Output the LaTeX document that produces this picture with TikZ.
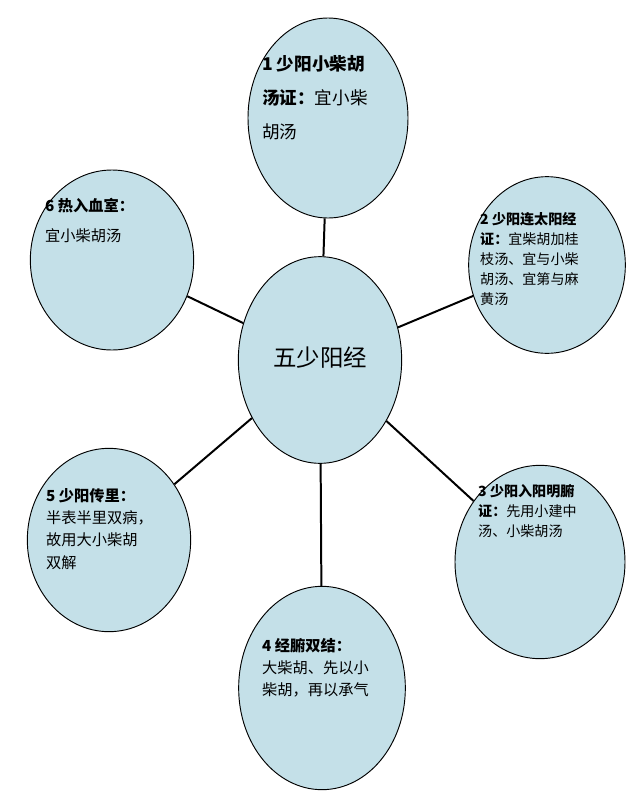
\documentclass[tikz,border=0pt]{standalone}
\usepackage{fontspec}
\setmainfont{Noto Sans CJK SC}
\usetikzlibrary{shapes.geometric}
\tikzset{
  blob/.style={ellipse,draw=black,thick,inner sep=0pt},
  spoke/.style={line width=1.7pt},
  txt/.style={align=left,anchor=north west,inner sep=0pt,font=\fontsize{13}{19}\selectfont}
}
\begin{document}
\begin{tikzpicture}[x=0.03cm,y=-0.03cm]
\definecolor{blobfill}{RGB}{196,224,232}
\tikzset{blob/.append style={fill=blobfill}}
\useasboundingbox (0,0) rectangle (640,803);

% bubbles
\node[blob,minimum width=4.8cm,minimum height=6cm] (top) at (328,118) {};
\node[blob,minimum width=4.7cm,minimum height=5.3cm] (tr) at (547,265) {};
\node[blob,minimum width=4.9cm,minimum height=5.4cm] (tl) at (112,260) {};
\node[blob,minimum width=4.9cm,minimum height=6.2cm] (mid) at (320,360) {};
\node[blob,minimum width=4.9cm,minimum height=5.5cm] (bl) at (109,540) {};
\node[blob,minimum width=5.1cm,minimum height=5.8cm] (br) at (540,562) {};
\node[blob,minimum width=5cm,minimum height=6.1cm] (bot) at (322,688) {};

% spokes
\draw[spoke] (mid) -- (top);
\draw[spoke] (mid) -- (tr);
\draw[spoke] (mid) -- (tl);
\draw[spoke] (mid) -- (bl);
\draw[spoke] (mid) -- (br);
\draw[spoke] (mid) -- (bot);

\node[font=\fontsize{20}{24}\selectfont] (midtxt) at (320,358) {五少阳经};
\node[txt,font=\fontsize{15}{29}\selectfont] (toptxt) at (262,55) {\textbf{1 少阳小柴胡}\\\textbf{汤证：}宜小柴\\胡汤};
\node[txt,font=\fontsize{12}{17}\selectfont] (trtxt) at (480,212) {\textbf{2 少阳连太阳经}\\\textbf{证：}宜柴胡加桂\\枝汤、宜与小柴\\胡汤、宜第与麻\\黄汤};
\node[txt,font=\fontsize{13}{26}\selectfont] (tltxt) at (45,198) {\textbf{6 热入血室：}\\宜小柴胡汤};
\node[txt] (bltxt) at (46,488) {\textbf{5 少阳传里：}\\半表半里双病，\\故用大小柴胡\\双解};
\node[txt,font=\fontsize{12}{17}\selectfont] (brtxt) at (478,484) {\textbf{3 少阳入阳明腑}\\\textbf{证：}先用小建中\\汤、小柴胡汤};
\node[txt] (bottxt) at (262,638) {\textbf{4 经腑双结：}\\大柴胡、先以小\\柴胡，再以承气};
\end{tikzpicture}
\end{document}
